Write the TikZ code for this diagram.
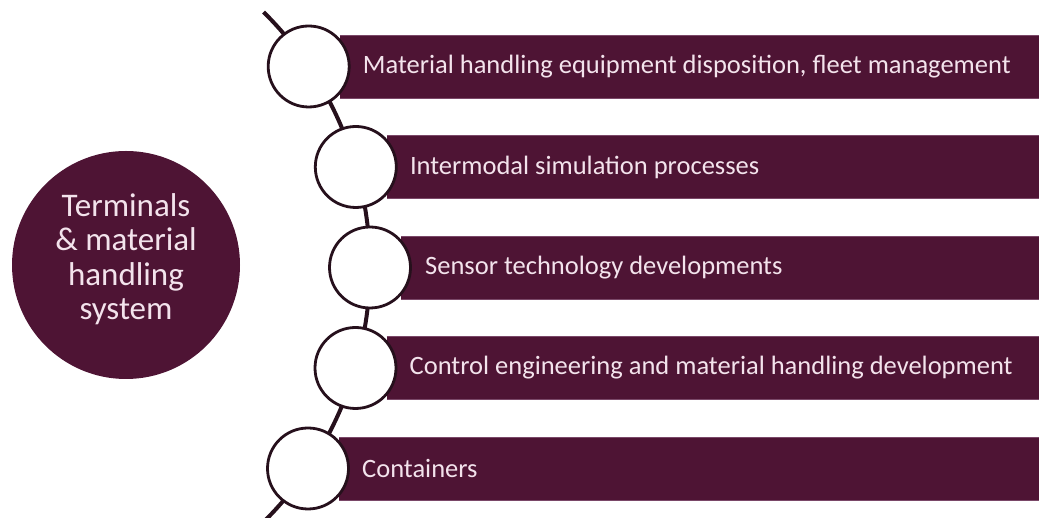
\documentclass[tikz,border=0pt]{standalone}
\usepackage{fontspec}
\setmainfont{Carlito}
\usetikzlibrary{calc}
\definecolor{maroon}{HTML}{4E1434}
\definecolor{spine}{HTML}{26101C}
\definecolor{lighttext}{HTML}{F3E3EC}
\definecolor{baredge}{HTML}{7A4868}
\begin{document}
\begin{tikzpicture}[x=1pt,y=1pt,
  hub/.style={circle,fill=maroon,minimum size=228pt,inner sep=0pt},
  hubtext/.style={text=lighttext,font=\fontsize{33}{34.5}\selectfont,align=center,inner sep=0pt},
  ring/.style={circle,draw=spine,line width=2.8pt,fill=white,minimum size=81pt,inner sep=0pt},
  bartext/.style={anchor=west,text=lighttext,font=\fontsize{26.5}{30}\selectfont,inner sep=0pt}]
\useasboundingbox (0,0) rectangle (1039,518);
\coordinate (A) at (11.4,251);
% hub
\node[hub] (hub) at (126,253) {};
\node[hubtext] (hubt) at ($(hub.center)+(0,6)$) {Terminals\\ \& material\\ handling\\ system};
% spine
\coordinate (top) at ($(A)+(45.3:358.6)$);
\draw[spine,line width=4pt] (top) arc[start angle=45.3,end angle=-46,radius=358.6];
% bars
\foreach \i/\cx/\cy in {1/308.7/451.5,2/355.8/351,3/370/250.5,4/355.5/150,5/308/49.5}{
  \fill[maroon] (\cx+31,\cy-31.5) rectangle (1041,\cy+31.5);
  \draw[baredge,line width=0.8pt] (\cx+31,\cy-31.5) -- (1041,\cy-31.5) (\cx+31,\cy+31.5) -- (1041,\cy+31.5);
}
\node[ring] (c1) at (308.7,451.5) {};
\node[ring] (c2) at (355.8,351) {};
\node[ring] (c3) at (370,250.5) {};
\node[ring] (c4) at (355.5,150) {};
\node[ring] (c5) at (308,49.5) {};
\node[bartext] (t1) at ($(c1.center)+(54,0)$) {Material handling equipment disposition, fleet management};
\node[bartext] (t2) at ($(c2.center)+(54,0)$) {Intermodal simulation processes};
\node[bartext] (t3) at ($(c3.center)+(55,0)$) {Sensor technology developments};
\node[bartext] (t4) at ($(c4.center)+(54,0)$) {Control engineering and material handling development};
\node[bartext] (t5) at ($(c5.center)+(54,0)$) {Containers};
\end{tikzpicture}
\end{document}
